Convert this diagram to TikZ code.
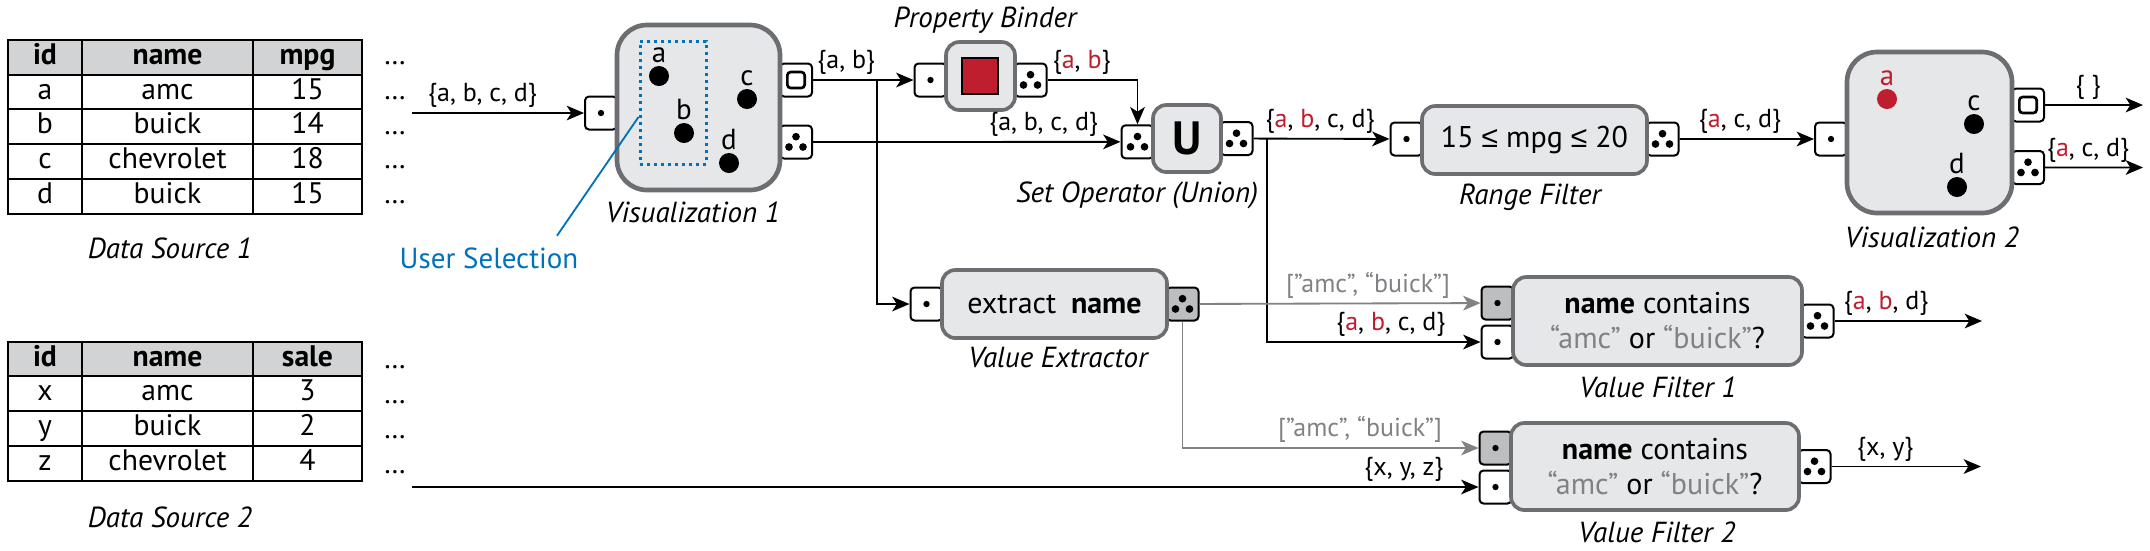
\documentclass[tikz,border=0pt]{standalone}
\usepackage{fontspec}
\setmainfont{PT Sans}
\newfontfamily\symfont{Liberation Sans}
\usepackage{xcolor}
\usetikzlibrary{arrows.meta, positioning}

\pgfdeclarelayer{ports}
\pgfsetlayers{ports,main}

\definecolor{boxfill}{HTML}{E6E7E8}
\definecolor{boxedge}{HTML}{6D6E71}
\definecolor{portgray}{HTML}{BCBEC0}
\definecolor{hdrgray}{HTML}{D1D3D4}
\definecolor{txtgray}{HTML}{808285}
\definecolor{selred}{HTML}{BE1E2D}
\definecolor{selblue}{HTML}{0072BC}

\newcommand{\redtxt}[1]{\textcolor{selred}{#1}}

\begin{document}
\begin{tikzpicture}[
    x=0.3pt, y=-0.3pt, % one unit = one pixel of the sketch, y downwards
    block/.style={rectangle, draw=boxedge, line width=1.1pt, fill=boxfill, rounded corners=4pt, inner sep=0pt, align=center, font=\fontsize{9}{10.5}\selectfont},
    viz/.style={block, line width=1.4pt, rounded corners=9pt},
    port/.style={rectangle, draw, line width=0.6pt, fill=white, rounded corners=1.2pt, minimum width=9.6pt, minimum height=9.9pt, inner sep=0pt},
    dotport/.style={port, path picture={\fill[black] (path picture bounding box.center) circle (0.95pt);}},
    setport/.style={port, path picture={
        \fill[black] ([yshift=1.6pt]path picture bounding box.center) circle (1.15pt)
              ([xshift=-2.1pt, yshift=-1.5pt]path picture bounding box.center) circle (1.15pt)
              ([xshift=2.1pt, yshift=-1.5pt]path picture bounding box.center) circle (1.15pt);}},
    selport/.style={port, path picture={\draw[line width=0.8pt, rounded corners=1pt] ([xshift=-2.6pt, yshift=-2.4pt]path picture bounding box.center) rectangle ([xshift=2.6pt, yshift=2.4pt]path picture bounding box.center);}},
    gport/.style={fill=portgray},
    dotpt/.style={circle, fill=black, minimum size=6pt, inner sep=0pt, label distance=0.6pt},
    ptlbl/.style={font=\fontsize{8.7}{10}\selectfont, inner sep=0.5pt},
    captxt/.style={font=\fontsize{8.7}{10}\selectfont\itshape},
    cell/.style={font=\fontsize{8.9}{10}\selectfont, text height=6.3pt, text depth=1.9pt, inner sep=0pt},
    hcell/.style={cell, font=\fontsize{8.9}{10}\selectfont\bfseries},
    moretxt/.style={font=\fontsize{8.7}{10}\selectfont, inner sep=0pt},
    tbl/.style={line width=0.6pt},
    flow/.style={font=\fontsize{7.8}{9}\selectfont, inner sep=1.3pt, above},
    line/.style={draw, line width=0.55pt, -{Stealth[length=5.2pt, width=4.4pt, inset=1.4pt]}},
    gline/.style={line, draw=txtgray}
    ]
    \useasboundingbox (0,0) rectangle (2150,550);

    % Data Source 1
    \fill[hdrgray] (8,40) rectangle (362,75);
    \draw[tbl] (8,40) rectangle (362,214);
    \foreach \y in {75,109,144,179} \draw[tbl] (8,\y) -- (362,\y);
    \foreach \x in {82,253} \draw[tbl] (\x,40) -- (\x,214);
    \node[hcell] (ha1) at (45,57.5) {id};
    \node[hcell] (hb1) at (167.5,57.5) {name};
    \node[hcell] (hc1) at (307.5,57.5) {mpg};
    \foreach \y/\rid/\rname/\rval [count=\r] in {92/a/amc/15, 126.5/b/buick/14, 161.5/c/chevrolet/18, 196.5/d/buick/15} {
        \node[cell] (ca\r) at (45,\y) {\rid};
        \node[cell] (cb\r) at (167.5,\y) {\rname};
        \node[cell] (cc\r) at (307.5,\y) {\rval};
    }
    \foreach \y [count=\r] in {63,98,133,167,202} \node[moretxt] (ma\r) at (395,\y) {…};
    \node[captxt] (ds1) at (170,248) {Data Source 1};

    % Data Source 2
    \fill[hdrgray] (8,342) rectangle (362,376);
    \draw[tbl] (8,342) rectangle (362,481);
    \foreach \y in {376,411,446} \draw[tbl] (8,\y) -- (362,\y);
    \foreach \x in {82,253} \draw[tbl] (\x,342) -- (\x,481);
    \node[hcell] (ha2) at (45,359) {id};
    \node[hcell] (hb2) at (167.5,359) {name};
    \node[hcell] (hc2) at (307.5,359) {sale};
    \foreach \y/\rid/\rname/\rval [count=\r] in {393.5/x/amc/3, 428.5/y/buick/2, 463.5/z/chevrolet/4} {
        \node[cell] (da\r) at (45,\y) {\rid};
        \node[cell] (db\r) at (167.5,\y) {\rname};
        \node[cell] (dc\r) at (307.5,\y) {\rval};
    }
    \foreach \y [count=\r] in {367,402,437,472} \node[moretxt] (mb\r) at (395,\y) {…};
    \node[captxt] (ds2) at (170,517) {Data Source 2};

    % Operators
    \node[viz, minimum width=48.9pt, minimum height=49.5pt] (viz1) at (698.5,107.5) {};
    \node[block, minimum width=20.7pt, minimum height=20.4pt] (binder) at (980.5,76) {};
    \node[draw, line width=0.6pt, fill=selred, minimum size=10.8pt, inner sep=0pt] (swatch) at (980,75.5) {};
    \node[block, minimum width=20.4pt, minimum height=20.1pt, font=\fontsize{14}{16}\selectfont\bfseries] (setop) at (1187,138.5) {U};
    \node[block, minimum width=67.5pt, minimum height=20.4pt] (range) at (1534.5,140) {15 {\symfont ≤} mpg {\symfont ≤} 20};
    \node[viz, minimum width=49.5pt, minimum height=48.3pt] (viz2) at (1929.5,132.5) {};
    \node[block, minimum width=67.5pt, minimum height=20.4pt] (extract) at (1054.5,304) {extract\hspace{2pt} \textbf{name}};
    \node[block, minimum width=86.7pt, minimum height=26.4pt] (vfilt1) at (1657.5,321) {\textbf{name} contains\\\textcolor{txtgray}{“amc”} or \textcolor{txtgray}{“buick”}?};
    \node[block, minimum width=86.4pt, minimum height=26.1pt] (vfilt2) at (1655,466.5) {\textbf{name} contains\\\textcolor{txtgray}{“amc”} or \textcolor{txtgray}{“buick”}?};

    % Ports (behind the boxes)
    \begin{pgfonlayer}{ports}
        \node[dotport, left=-1pt of viz1, yshift=-1.65pt] (v1in) {};
        \node[selport, right=-1pt of viz1, yshift=8.25pt] (v1sel) {};
        \node[setport, right=-1pt of viz1, yshift=-10.35pt] (v1set) {};
        \node[dotport, left=-1pt of binder, yshift=-1.2pt] (binin) {};
        \node[setport, right=-1pt of binder, yshift=-1.2pt] (binout) {};
        \node[setport, left=-1pt of setop, yshift=-1pt] (soin) {};
        \node[setport, right=-1pt of setop] (soout) {};
        \node[dotport, left=-1pt of range, yshift=0.3pt] (rfin) {};
        \node[setport, right=-1pt of range, yshift=0.3pt] (rfout) {};
        \node[dotport, left=-1pt of viz2, yshift=-1.95pt] (v2in) {};
        \node[selport, right=-1pt of viz2, yshift=8.25pt] (v2sel) {};
        \node[setport, right=-1pt of viz2, yshift=-10.5pt] (v2set) {};
        \node[dotport, left=-1pt of extract] (exin) {};
        \node[setport, gport, right=-1pt of extract] (exout) {};
        \node[dotport, gport, left=-1pt of vfilt1, yshift=5.4pt] (vf1in1) {};
        \node[dotport, left=-1pt of vfilt1, yshift=-6.3pt] (vf1in2) {};
        \node[setport, right=-1pt of vfilt1] (vf1out) {};
        \node[dotport, gport, left=-1pt of vfilt2, yshift=5.55pt] (vf2in1) {};
        \node[dotport, left=-1pt of vfilt2, yshift=-6.15pt] (vf2in2) {};
        \node[setport, right=-1pt of vfilt2] (vf2out) {};
    \end{pgfonlayer}

    % Marks in the visualizations
    \node[dotpt, label={[ptlbl]above:a}] (p1a) at (659,76) {};
    \node[dotpt, label={[ptlbl]above:b}] (p1b) at (684,133) {};
    \node[dotpt, label={[ptlbl]above:c}] (p1c) at (747,99) {};
    \node[dotpt, label={[ptlbl]above:d}] (p1d) at (729,163) {};
    \node[draw=selblue, line width=0.9pt, dash pattern=on 0.8pt off 1.3pt, minimum width=19.8pt, minimum height=36.9pt, inner sep=0pt] (sel) at (673,102.5) {};
    \node[dotpt, fill=selred, label={[ptlbl, text=selred]above:a}] (p2a) at (1887,99) {};
    \node[dotpt, label={[ptlbl]above:c}] (p2c) at (1974,124) {};
    \node[dotpt, label={[ptlbl]above:d}] (p2d) at (1957,187) {};

    \node[font=\fontsize{8.7}{10}\selectfont, text=selblue] (usel) at (489,258) {User Selection};
    \draw[selblue, line width=0.55pt] ([xshift=20.4pt]usel.north) -- ([yshift=-4.35pt]sel.west);

    % Captions
    \node[captxt] (c1) at (693,212) {Visualization 1};
    \node[captxt] (c2) at (985,20) {Property Binder};
    \node[captxt] (c3) at (1137,195) {Set Operator (Union)};
    \node[captxt] (c4) at (1530,197) {Range Filter};
    \node[captxt] (c5) at (1932,237) {Visualization 2};
    \node[captxt] (c6) at (1058,358) {Value Extractor};
    \node[captxt] (c7) at (1658,387) {Value Filter 1};
    \node[captxt] (c8) at (1657,532) {Value Filter 2};

    % Free ends and splits
    \coordinate (src1) at (412,113);
    \coordinate (src2) at (412,487);
    \coordinate (j1) at (877,80);
    \coordinate (j2) at (1267,138.5);
    \coordinate (out1) at (2143,105);
    \coordinate (out2) at (2143,167.5);
    \coordinate (out3) at (1982,321);
    \coordinate (out4) at (1981,466.5);

    % Draw edges
    \path[line] (src1) -- node[flow, pos=0.41] {\{a, b, c, d\}} (v1in);
    \path[line] (v1sel) -- node[flow, pos=0.33] {\{a, b\}} (binin);
    \path[line] (j1) |- (exin);
    \path[line] (v1set) -- node[flow, pos=0.75] {\{a, b, c, d\}} (soin);
    \path[line] (binout) -| node[flow, pos=0.19] {\{\redtxt{a}, \redtxt{b}\}} (soin);
    \path[line] (soout) -- node[flow, pos=0.49] {\{\redtxt{a}, \redtxt{b}, c, d\}} (rfin);
    \path[line] (j2) |- node[flow, pos=0.79] {\{\redtxt{a}, \redtxt{b}, c, d\}} (vf1in2);
    \path[line] (rfout) -- node[flow, pos=0.45] {\{\redtxt{a}, c, d\}} (v2in);
    \path[line] (v2sel) -- node[flow, pos=0.44] {\{ \}} (out1);
    \path[line] (v2set) -- node[flow, pos=0.44] {\{\redtxt{a}, c, d\}} (out2);
    \path[gline] (exout) -- node[flow, text=txtgray, pos=0.6] {[”amc”, “buick”]} (vf1in1);
    \path[gline] (exout.south) |- node[flow, text=txtgray, pos=0.8] {[”amc”, “buick”]} (vf2in1);
    \path[line] (vf1out) -- node[flow, pos=0.35] {\{\redtxt{a}, \redtxt{b}, d\}} (out3);
    \path[line] (vf2out) -- node[flow, pos=0.36] {\{x, y\}} (out4);
    \path[line] (src2) -- node[flow, pos=0.93] {\{x, y, z\}} (vf2in2);

\end{tikzpicture}
\end{document}
